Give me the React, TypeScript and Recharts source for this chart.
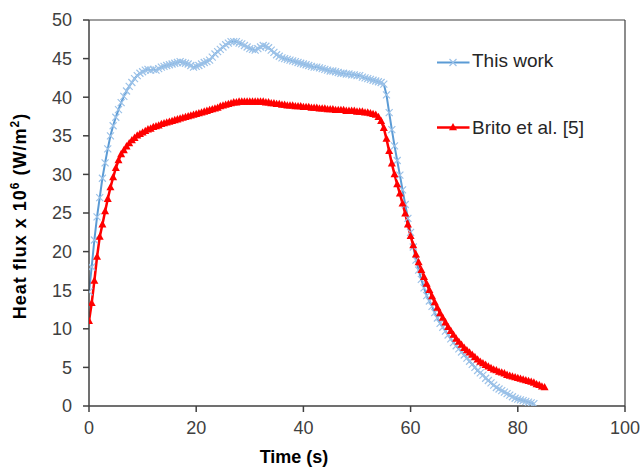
import React from 'react';
import { LineChart, Line, XAxis, YAxis, ReferenceLine, Legend } from 'recharts';

const FONT = '"Liberation Sans", Arial, sans-serif';

const times = [
  0, 0.5, 1, 1.5, 2, 2.5, 3, 3.5, 4, 4.5,
  5, 5.5, 6, 6.5, 7, 7.5, 8, 8.5, 9, 9.5,
  10, 10.5, 11, 11.5, 12, 12.5, 13, 13.5, 14, 14.5,
  15, 15.5, 16, 16.5, 17, 17.5, 18, 18.5, 19, 19.5,
  20, 20.5, 21, 21.5, 22, 22.5, 23, 23.5, 24, 24.5,
  25, 25.5, 26, 26.5, 27, 27.5, 28, 28.5, 29, 29.5,
  30, 30.5, 31, 31.5, 32, 32.5, 33, 33.5, 34, 34.5,
  35, 35.5, 36, 36.5, 37, 37.5, 38, 38.5, 39, 39.5,
  40, 40.5, 41, 41.5, 42, 42.5, 43, 43.5, 44, 44.5,
  45, 45.5, 46, 46.5, 47, 47.5, 48, 48.5, 49, 49.5,
  50, 50.5, 51, 51.5, 52, 52.5, 53, 53.5, 54, 54.5,
  55, 55.5, 56, 56.5, 57, 57.5, 58, 58.5, 59, 59.5,
  60, 60.5, 61, 61.5, 62, 62.5, 63, 63.5, 64, 64.5,
  65, 65.5, 66, 66.5, 67, 67.5, 68, 68.5, 69, 69.5,
  70, 70.5, 71, 71.5, 72, 72.5, 73, 73.5, 74, 74.5,
  75, 75.5, 76, 76.5, 77, 77.5, 78, 78.5, 79, 79.5,
  80, 80.5, 81, 81.5, 82, 82.5, 83, 83.5, 84, 84.5,
  85,
];

// Heat flux x 10^6 (W/m2) — This work
const thisWork = [
  14.8, 18.0, 21.5, 24.5, 27.0, 29.5, 31.5, 33.3, 35.0, 36.3,
  37.4, 38.4, 39.3, 40.1, 40.8, 41.4, 41.9, 42.4, 42.8, 43.1,
  43.3, 43.5, 43.6, 43.5, 43.6, 43.5, 43.7, 43.9, 44.0, 44.1,
  44.2, 44.3, 44.4, 44.5, 44.6, 44.5, 44.4, 44.3, 44.1, 43.9,
  44.0, 44.1, 44.3, 44.5, 44.6, 44.8, 45.2, 45.6, 45.9, 46.2,
  46.5, 46.8, 47.0, 47.2, 47.2, 47.2, 47.0, 46.9, 46.7, 46.5,
  46.3, 46.2, 46.1, 46.3, 46.5, 46.7, 46.6, 46.4, 46.1, 45.8,
  45.5, 45.3, 45.1, 45.0, 44.9, 44.8, 44.7, 44.6, 44.5, 44.4,
  44.3, 44.2, 44.1, 44.0, 43.9, 43.9, 43.8, 43.7, 43.6, 43.5,
  43.4, 43.4, 43.3, 43.2, 43.1, 43.1, 43.0, 43.0, 42.9, 42.9,
  42.8, 42.8, 42.6, 42.5, 42.4, 42.3, 42.2, 42.1, 42.0, 41.9,
  41.7, 40.3, 38.0, 35.8, 33.7, 31.8, 29.9, 28.0, 26.1, 24.3,
  22.5, 20.6, 18.9, 17.6, 16.4, 15.3, 14.3, 13.6, 12.9, 12.1,
  11.4, 10.7, 10.2, 9.7, 9.2, 8.7, 8.2, 7.8, 7.4, 7.0,
  6.6, 6.2, 5.8, 5.4, 5.0, 4.6, 4.3, 4.0, 3.6, 3.3,
  3.0, 2.7, 2.4, 2.2, 2.0, 1.8, 1.6, 1.4, 1.2, 1.0,
  0.9, 0.8, 0.7, 0.6, 0.5, 0.4, 0.3,
];

// Brito et al. [5]
const brito = [
  11.0, 13.3, 16.2, 19.3, 21.9, 23.5, 25.2, 26.8, 28.3, 29.6,
  30.8, 31.8, 32.6, 33.1, 33.6, 34.0, 34.4, 34.7, 35.0, 35.2,
  35.4, 35.6, 35.8, 35.9, 36.1, 36.2, 36.3, 36.5, 36.6, 36.7,
  36.8, 36.9, 37.0, 37.1, 37.2, 37.3, 37.4, 37.5, 37.6, 37.7,
  37.8, 37.9, 38.0, 38.1, 38.2, 38.3, 38.4, 38.5, 38.6, 38.8,
  38.9, 39.0, 39.1, 39.2, 39.3, 39.3, 39.4, 39.4, 39.4, 39.4,
  39.4, 39.4, 39.4, 39.4, 39.4, 39.4, 39.3, 39.3, 39.2, 39.2,
  39.1, 39.1, 39.0, 39.0, 38.9, 38.9, 38.9, 38.8, 38.8, 38.8,
  38.7, 38.7, 38.7, 38.6, 38.6, 38.6, 38.5, 38.5, 38.5, 38.4,
  38.4, 38.4, 38.3, 38.3, 38.3, 38.3, 38.2, 38.2, 38.2, 38.2,
  38.1, 38.1, 38.1, 38.0, 38.0, 37.9, 37.8, 37.7, 37.4, 36.9,
  36.0, 34.6, 33.0, 31.4, 30.0, 28.7, 27.5, 26.2, 24.9, 23.5,
  22.0, 20.8, 19.6, 18.6, 17.6, 16.7, 15.8, 15.0, 14.2, 13.4,
  12.7, 12.0, 11.4, 10.8, 10.2, 9.7, 9.2, 8.7, 8.3, 7.9,
  7.5, 7.2, 6.9, 6.6, 6.3, 6.0, 5.7, 5.5, 5.3, 5.1,
  4.9, 4.7, 4.6, 4.4, 4.3, 4.2, 4.0, 3.9, 3.8, 3.7,
  3.6, 3.5, 3.4, 3.3, 3.2, 3.1, 3.0, 2.8, 2.7, 2.5,
  2.4,
];

const xTicks = [0, 20, 40, 60, 80, 100];
const yTicks = [0, 5, 10, 15, 20, 25, 30, 35, 40, 45, 50];

const thisWorkData = thisWork.map((v, i) => ({ t: times[i], v }));
const britoData = brito.map((v, i) => ({ t: times[i], v }));

const BLUE_LINE = '#5B9BD5';
const BLUE_MARK = '#9CC2E8';
const RED = '#FF0000';
const AXIS = '#404040';

const BlueDot = (p: any) => {
  const { cx, cy, index } = p;
  if (cx == null || cy == null) return <g key={`b${index}`} />;
  const s = 3.5;
  return (
    <path
      key={`b${index}`}
      d={`M${cx - s},${cy - s}L${cx + s},${cy + s}M${cx - s},${cy + s}L${cx + s},${cy - s}`}
      stroke={BLUE_MARK}
      strokeWidth={1.2}
      fill="none"
    />
  );
};

const RedDot = (p: any) => {
  const { cx, cy, index } = p;
  if (cx == null || cy == null) return <g key={`r${index}`} />;
  return (
    <path
      key={`r${index}`}
      d={`M${cx},${cy - 4.5}L${cx + 4},${cy + 2.8}L${cx - 4},${cy + 2.8}Z`}
      fill={RED}
      stroke="none"
    />
  );
};

const XTitle = () => (
  <text x={294} y={463} textAnchor="middle" fontFamily={FONT} fontWeight="bold" fontSize={18} fill="#000">
    Time (s)
  </text>
);

const YTitle = () => (
  <text
    x={26}
    y={216}
    transform="rotate(-90, 26, 216)"
    textAnchor="middle"
    fontFamily={FONT}
    fontWeight="bold"
    fontSize={18}
    letterSpacing={1}
    fill="#000"
  >
    Heat flux x 10
    <tspan dy={-7} fontSize={12}>6</tspan>
    <tspan dy={7}> (W/m</tspan>
    <tspan dy={-7} fontSize={12}>2</tspan>
    <tspan dy={7}>)</tspan>
  </text>
);

const LegendContent = () => (
  <svg width={200} height={105} style={{ display: 'block' }}>
    <line x1={7} y1={22.5} x2={39.5} y2={22.5} stroke={BLUE_LINE} strokeWidth={2} />
    <path d="M19.5,19L26.5,26M19.5,26L26.5,19" stroke={BLUE_MARK} strokeWidth={1.2} fill="none" />
    <text x={42} y={26.5} fontFamily={FONT} fontSize={19} fill="#262626">This work</text>
    <line x1={7} y1={87.5} x2={39.5} y2={87.5} stroke={RED} strokeWidth={2.5} />
    <path d="M23,83L27,90.3L19,90.3Z" fill={RED} />
    <text x={42} y={93.5} fontFamily={FONT} fontSize={19} fill="#262626">Brito et al. [5]</text>
  </svg>
);

export default function App() {
  return (
    <div style={{ position: 'absolute', left: 0, top: 0, background: '#fff' }}>
      <LineChart width={641} height={467} margin={{ top: 20, right: 16, left: 0, bottom: 0 }}>
        <XAxis
          type="number"
          dataKey="t"
          domain={[0, 100]}
          ticks={xTicks}
          allowDataOverflow
          height={61}
          tickSize={6}
          tickMargin={9}
          stroke={AXIS}
          strokeWidth={1.5}
          tick={{ fill: AXIS, fontSize: 18, fontFamily: FONT }}
          label={XTitle}
        />
        <YAxis
          type="number"
          dataKey="v"
          domain={[0, 50]}
          ticks={yTicks}
          allowDataOverflow
          width={89}
          tickSize={6}
          tickMargin={11}
          stroke={AXIS}
          strokeWidth={1.5}
          tick={{ fill: AXIS, fontSize: 18, fontFamily: FONT }}
          label={YTitle}
        />
        <ReferenceLine y={50} stroke={AXIS} strokeWidth={1.2} />
        <ReferenceLine x={100} stroke={AXIS} strokeWidth={1.2} />
        <Line
          data={thisWorkData}
          dataKey="v"
          name="This work"
          type="linear"
          stroke={BLUE_LINE}
          strokeWidth={2}
          dot={BlueDot}
          activeDot={false}
          isAnimationActive={false}
        />
        <Line
          data={britoData}
          dataKey="v"
          name="Brito et al. [5]"
          type="linear"
          stroke={RED}
          strokeWidth={2.5}
          dot={RedDot}
          activeDot={false}
          isAnimationActive={false}
        />
        <Legend
          layout="vertical"
          align="center"
          verticalAlign="middle"
          content={LegendContent}
          wrapperStyle={{ left: 430, top: 40, width: 200, height: 105 }}
        />
      </LineChart>
    </div>
  );
}
